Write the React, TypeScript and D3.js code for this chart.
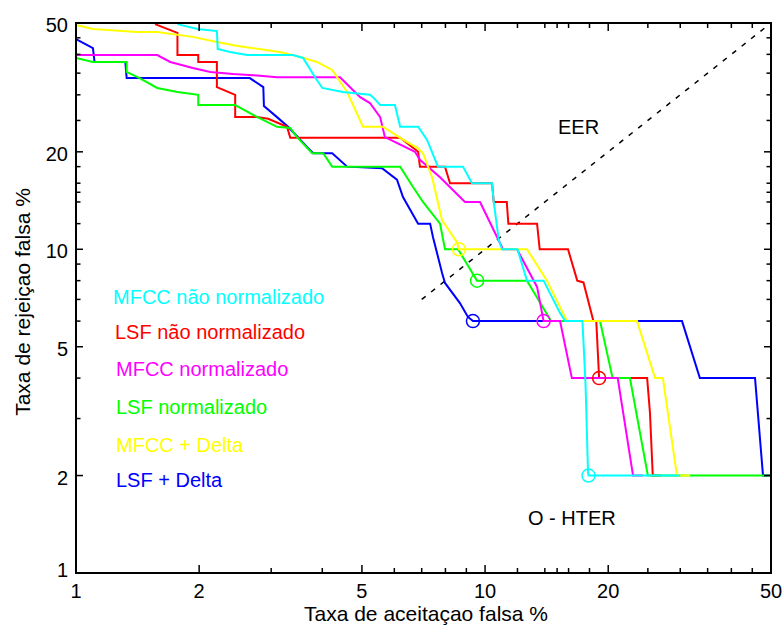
import React from "react";
import * as d3 from "d3";

type Pt = [number, number];

// DET curves: [false acceptance %, false rejection %]
const mfccNaoNorm: Pt[] = [
  [1.77, 49.6], [1.98, 47.9], [2.21, 47.2], [2.22, 41.6], [2.38, 40.7], [2.62, 39.8], [3.39, 39.8],
  [3.59, 39.0], [3.84, 34.0], [4.0, 31.5], [4.49, 30.6], [5.23, 30.0], [5.32, 29.5], [5.54, 27.9],
  [6.02, 27.9], [6.2, 23.9], [6.86, 23.9], [7.21, 21.8], [7.67, 18], [8.83, 18], [9.29, 16],
  [10.4, 16], [10.5, 14], [10.8, 10.7], [11.0, 10], [12.0, 10], [12.66, 8], [13.9, 8], [15.25, 6.36],
  [15.7, 6], [17.3, 6], [17.6, 3.86], [17.85, 2.05], [17.9, 2], [30, 2],
];
const lsfNaoNorm: Pt[] = [
  [1.56, 49.6], [1.77, 46.6], [1.77, 39.8], [1.99, 39.8], [1.99, 37.9], [2.21, 37.9], [2.21, 31.7],
  [2.45, 30.0], [2.45, 25.6], [2.77, 25.6], [2.95, 25.3], [3.28, 23.9], [3.34, 22.1], [6.2, 22.1],
  [6.86, 20], [6.93, 18], [7.98, 18], [8.21, 16], [10.4, 16], [10.5, 14], [11.3, 14], [11.4, 12],
  [13.4, 12], [13.6, 10], [15.95, 10], [16.8, 8], [17.4, 7.9], [18.4, 6], [18.7, 6], [19.0, 4],
  [24.9, 4], [25.3, 3.12], [25.7, 2], [27, 2],
];
const mfccNorm: Pt[] = [
  [1, 39.8], [1.58, 39.8], [1.7, 37.9], [1.93, 36.3], [2.13, 35.3], [2.42, 34.8], [2.71, 34.5],
  [3.1, 34.0], [4.42, 34.0], [4.95, 29.5], [5.23, 28.3], [5.54, 25.6], [5.69, 22.2], [5.86, 21.8],
  [6.74, 20], [6.93, 18.9], [7.76, 16.7], [8.93, 14], [9.72, 14], [11.06, 10], [11.97, 10],
  [13.4, 7.65], [13.9, 6], [15.25, 6], [16.3, 4], [21.1, 4], [23.0, 2], [24.3, 2],
];
const lsfNorm: Pt[] = [
  [1, 39.0], [1.1, 37.9], [1.33, 37.9], [1.33, 35.3], [1.43, 33.8], [1.58, 31.5], [1.77, 30.6],
  [1.99, 30.0], [1.99, 27.9], [2.45, 27.9], [2.71, 26.0], [3.1, 23.9], [3.34, 23.7], [3.47, 22.2],
  [3.78, 19.8], [4.02, 19.8], [4.23, 18], [6.2, 18], [6.66, 15.6], [7.05, 14], [7.76, 12], [7.98, 10],
  [8.59, 10], [9.56, 8], [12.66, 8], [14.5, 6], [19.1, 6], [20.5, 4], [22.6, 4], [25.0, 2], [50, 2],
];
const mfccDelta: Pt[] = [
  [1, 49.3], [1.1, 47.9], [1.41, 46.9], [1.58, 46.9], [1.93, 45.3], [2.21, 43.7], [2.47, 42.5],
  [2.71, 41.8], [3.15, 40.7], [3.53, 39.3], [3.88, 37.9], [4.23, 35.8], [4.6, 30.6], [5.03, 23.9],
  [5.63, 23.9], [6.3, 21.8], [6.86, 20.5], [7.05, 19.8], [7.42, 16.7], [7.85, 12.3], [8.54, 10.5],
  [8.63, 10], [12.66, 10], [14.17, 8], [15.86, 6], [23.52, 6], [26.03, 4], [27.2, 4], [29.45, 2], [31.7, 2],
];
const lsfDelta: Pt[] = [
  [1, 44.6], [1.1, 41.8], [1.11, 37.9], [1.32, 37.9], [1.33, 33.8], [2.66, 33.8], [2.87, 31.7],
  [2.88, 27.7], [3.1, 25.6], [3.3, 23.9], [3.67, 20.7], [3.8, 19.8], [4.23, 19.8], [4.6, 18],
  [5.6, 17.8], [6.09, 16.4], [6.3, 14.5], [6.86, 12], [7.34, 12], [7.46, 10.9], [7.85, 8.45],
  [7.98, 7.87], [8.68, 6.82], [9.08, 6.18], [9.34, 6], [30.3, 6], [33.5, 4], [45.7, 4], [47.8, 2], [50, 2],
];

const seriesNames = [
  "MFCC não normalizado",
  "LSF não normalizado",
  "MFCC normalizado",
  "LSF normalizado",
  "MFCC + Delta",
  "LSF + Delta",
];
const seriesColors = ["#00FFFF", "#FF0000", "#FF00FF", "#00FF00", "#FFFF00", "#0000FF"];
const seriesData = [mfccNaoNorm, lsfNaoNorm, mfccNorm, lsfNorm, mfccDelta, lsfDelta];
// drawing order (bottom to top)
const drawOrder = [5, 1, 3, 2, 4, 0];

// HTER points (one per series)
const hterX = [17.9, 19.0, 13.9, 9.56, 8.63, 9.34];
const hterY = [2, 4, 6, 8, 10, 6];

// EER diagonal
const eerLine: Pt[] = [[7, 7], [50, 50]];

const majorTicks = [1, 2, 5, 10, 20, 50];
const minorTicks = [3, 4, 6, 7, 8, 9, 12, 14, 15, 16, 18, 25, 30, 35, 40, 45];

const W = 783;
const H = 628;
const left = 76, right = 771, top = 23, bottom = 573;
const FONT = "'Liberation Sans', Arial, sans-serif";

export default function App() {
  const x = d3.scaleLog().domain([1, 50]).range([left, right]);
  const y = d3.scaleLog().domain([1, 50]).range([bottom, top]);
  const line = d3.line<Pt>().x((d) => x(d[0])).y((d) => y(d[1]));

  const legendY = [304, 339, 376, 414, 452, 487];
  const legendX = [113, 115, 116, 116, 116, 116];

  return (
    <svg width={W} height={H} style={{ position: "absolute", left: 0, top: 0, background: "#fff" }}
      fontFamily={FONT}>
      <rect x={0} y={0} width={W} height={H} fill="#fff" />
      <defs>
        <clipPath id="plotclip">
          <rect x={left} y={top} width={right - left} height={bottom - top} />
        </clipPath>
      </defs>
      <g clipPath="url(#plotclip)">
        <path d={line(eerLine) || ""} stroke="#000" strokeWidth={1.5} strokeDasharray="5,7" fill="none" />
        {drawOrder.map((i) => (
          <path key={i} d={line(seriesData[i]) || ""} stroke={seriesColors[i]} strokeWidth={2} fill="none" />
        ))}
      </g>
      {drawOrder.map((i) => (
        <circle key={"c" + i} cx={x(hterX[i])} cy={y(hterY[i])} r={6.5} fill="none"
          stroke={seriesColors[i]} strokeWidth={1.5} />
      ))}
      {/* frame */}
      <rect x={left} y={top} width={right - left} height={bottom - top} fill="none" stroke="#000" strokeWidth={2} />
      {/* ticks */}
      {majorTicks.concat(minorTicks).map((v) => {
        const isMajor = majorTicks.includes(v);
        const lx = isMajor ? 8 : 5;
        const ly = isMajor ? 7 : 4.5;
        return (
          <g key={"t" + v} stroke="#000" strokeWidth={1.5}>
            <line x1={x(v)} x2={x(v)} y1={bottom} y2={bottom - lx} />
            <line x1={x(v)} x2={x(v)} y1={top} y2={top + lx} />
            <line x1={left} x2={left + ly} y1={y(v)} y2={y(v)} />
            <line x1={right} x2={right - ly} y1={y(v)} y2={y(v)} />
          </g>
        );
      })}
      {majorTicks.map((v) => (
        <text key={"xl" + v} x={x(v)} y={598} fontSize={20} textAnchor="middle" fill="#000">{v}</text>
      ))}
      {majorTicks.map((v) => (
        <text key={"yl" + v} x={68} y={y(v) + (v === 1 ? -3 : 2)} fontSize={20} textAnchor="end" dominantBaseline="central" fill="#000">{v}</text>
      ))}
      <text x={426} y={621} fontSize={21} textAnchor="middle" fill="#000">Taxa de aceitaçao falsa %</text>
      <text transform={`translate(30,302) rotate(-90)`} fontSize={21} textAnchor="middle" fill="#000">Taxa de rejeiçao falsa %</text>
      {seriesNames.map((n, i) => (
        <text key={"lg" + i} x={legendX[i]} y={legendY[i]} fontSize={20} fill={seriesColors[i]}>{n}</text>
      ))}
      <text x={558} y={134} fontSize={20} fill="#000">EER</text>
      <text x={528} y={525} fontSize={20} fill="#000">O - HTER</text>
    </svg>
  );
}
